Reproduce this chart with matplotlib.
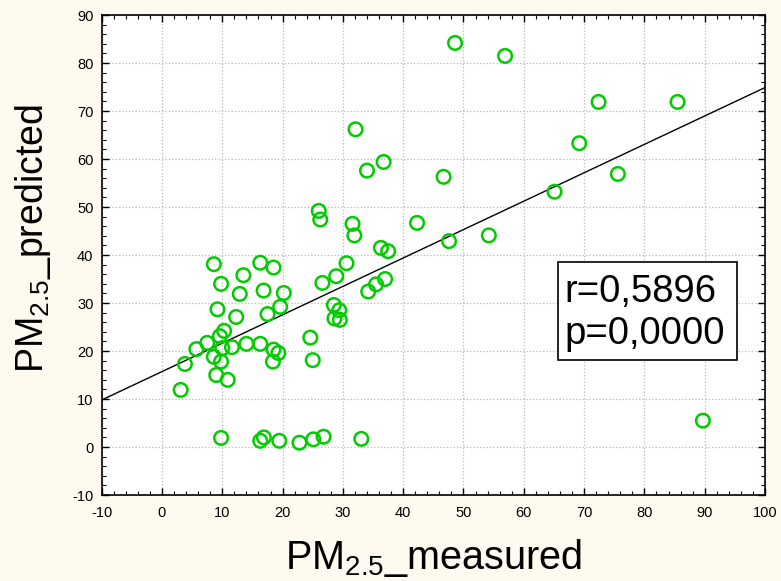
import matplotlib
matplotlib.use("Agg")
import matplotlib.pyplot as plt
from matplotlib.ticker import MultipleLocator
from matplotlib.patches import Rectangle

plt.rcParams['font.family'] = ['Liberation Sans', 'DejaVu Sans']
plt.rcParams['mathtext.fontset'] = 'custom'
plt.rcParams['mathtext.rm'] = 'Liberation Sans'
plt.rcParams['mathtext.default'] = 'regular'
plt.rcParams['axes.unicode_minus'] = False

measured = [32.1, 34.0, 36.75, 46.7, 26.0, 26.25, 31.6, 31.9, 42.3, 36.3, 37.5,
            48.6, 56.9, 72.4, 85.5, 69.2, 75.6, 65.1, 47.6, 54.2, 89.7,
            8.6, 16.3, 18.5, 30.6, 13.5, 9.8, 16.85, 20.2, 12.9, 26.6, 28.9,
            37.0, 35.5, 34.2, 9.2, 19.6, 17.5, 12.3, 28.5, 29.4, 28.6, 29.5,
            24.6, 25.0, 10.3, 9.6, 7.5, 5.7, 10.0, 8.6, 11.6, 14.0, 16.3,
            18.5, 19.3, 18.4, 9.8, 3.8, 9.0, 10.9, 3.1,
            9.8, 16.3, 16.9, 19.45, 22.8, 25.1, 26.8, 33.05]
predicted = [66.2, 57.6, 59.4, 56.3, 49.2, 47.4, 46.5, 44.1, 46.7, 41.5, 40.8,
             84.2, 81.5, 71.9, 71.9, 63.3, 56.9, 53.2, 42.9, 44.1, 5.5,
             38.1, 38.4, 37.4, 38.3, 35.8, 34.0, 32.6, 32.1, 31.9, 34.2, 35.6,
             35.0, 33.9, 32.4, 28.7, 29.2, 27.7, 27.1, 29.6, 28.5, 26.8, 26.5,
             22.8, 18.1, 24.2, 23.1, 21.7, 20.4, 20.6, 18.8, 20.8, 21.5, 21.5,
             20.3, 19.6, 17.8, 17.8, 17.3, 15.0, 14.0, 11.9,
             1.9, 1.3, 2.0, 1.3, 0.9, 1.6, 2.15, 1.7]
fit_x = [-10, 100]
fit_y = [9.8, 74.9]
stats_lines = ["r=0,5896", "p=0,0000"]

bg = '#fffaf0'
fig = plt.figure(figsize=(7.81, 5.81), dpi=100, facecolor=bg)
ax = fig.add_axes([0.1302, 0.148, 0.8493, 0.826])
ax.set_facecolor('white')

ax.plot(fit_x, fit_y, color='black', lw=1.0, zorder=2)
ax.scatter(measured, predicted, s=95, facecolors='none', edgecolors='#00cc00',
           linewidths=1.8, zorder=3)

ax.set_xlim(-10, 100)
ax.set_ylim(-10, 90)
ax.xaxis.set_major_locator(MultipleLocator(10))
ax.yaxis.set_major_locator(MultipleLocator(10))
ax.xaxis.set_minor_locator(MultipleLocator(2))
ax.yaxis.set_minor_locator(MultipleLocator(2))
ax.tick_params(which='both', direction='in', top=True, right=True, labelsize=10.5)
ax.tick_params(which='major', length=5, width=1)
ax.tick_params(which='minor', length=3, width=0.8)
ax.tick_params(axis='x', pad=8)
ax.tick_params(axis='y', pad=6)
ax.grid(True, which='major', color='#b8b8b8', linestyle=':', linewidth=0.9)
ax.set_axisbelow(True)
for s in ax.spines.values():
    s.set_linewidth(1.2)

ax.set_xlabel(r'PM$_{2.5}$_measured', fontsize=28.5, labelpad=12)
ax.set_ylabel(r'PM$_{2.5}$_predicted', fontsize=27)
ax.yaxis.set_label_coords(-0.074, 0.535)

ax.add_patch(Rectangle((0.6875, 0.281), 0.2705, 0.205, transform=ax.transAxes,
                       facecolor='white', edgecolor='black', lw=1.2, zorder=5))
for txt, yb in zip(stats_lines, [0.4027, 0.3146]):
    ax.text(0.697, yb, txt, transform=ax.transAxes, fontsize=27.5,
            ha='left', va='baseline', zorder=6)

fig.savefig('out.png', dpi=100, facecolor=bg)
